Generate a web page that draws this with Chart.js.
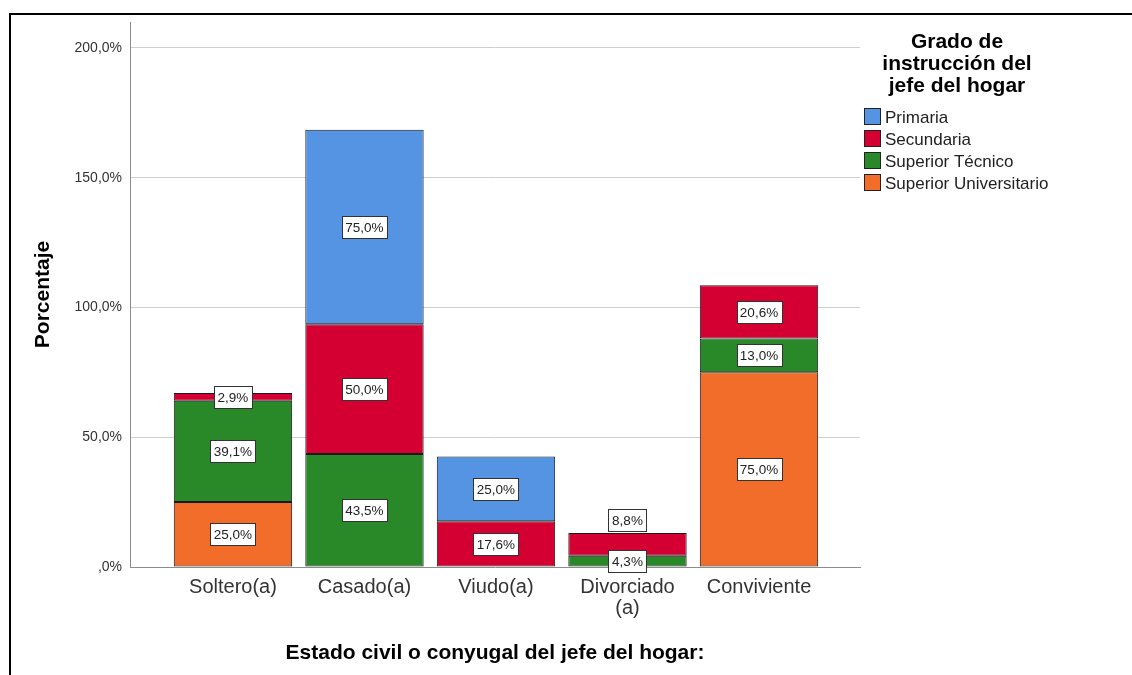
<!DOCTYPE html>
<html>
<head>
<meta charset="utf-8">
<script src="https://cdn.jsdelivr.net/npm/chart.js@4"></script>
<style>
    body { margin: 0; background: #fff; }
    #wrap { position: relative; width: 1132px; height: 675px; }
    #frame { position: absolute; left: 9px; top: 13px; right: 0; bottom: 0;
             border-top: 2px solid #000; border-left: 2px solid #000; pointer-events: none; }
</style>
</head>
<body>
<div id="wrap">
    <canvas id="chart" width="1132" height="675"></canvas>
    <div id="frame"></div>
</div>
<script>
// categories on the x axis
const categories = ['Soltero(a)', 'Casado(a)', 'Viudo(a)', ['Divorciado', '(a)'], 'Conviviente'];

// series, bottom of the stack first (null = no segment)
const universitario = [25.0, null, null, null, 75.0];
const tecnico = [39.1, 43.5, null, 4.3, 13.0];
const secundaria = [2.9, 50.0, 17.6, 8.8, 20.6];
const primaria = [null, 75.0, 25.0, null, null];

const yTicks = [0, 50, 100, 150, 200];

const series = [
    { label: 'Superior Universitario', values: universitario, color: '#f26c2a' },
    { label: 'Superior Técnico', values: tecnico, color: '#298929' },
    { label: 'Secundaria', values: secundaria, color: '#d50032' },
    { label: 'Primaria', values: primaria, color: '#5494e2' }
];

const fmt = v => v.toFixed(1).replace('.', ',') + '%';

// white boxed value labels, pushed up over the bar when they would collide
const valueLabels = {
    id: 'valueLabels',
    afterDatasetsDraw(chart) {
        const ctx = chart.ctx;
        const lastTop = {};
        ctx.save();
        ctx.font = '13.5px "Liberation Sans", Arial, sans-serif';
        ctx.textAlign = 'center';
        ctx.textBaseline = 'middle';
        chart.data.datasets.forEach((ds, di) => {
            const meta = chart.getDatasetMeta(di);
            meta.data.forEach((el, i) => {
                const v = ds.data[i].y;
                if (v === null || v === undefined) return;
                const text = fmt(v);
                const w = Math.round(ctx.measureText(text).width + 7);
                const h = 22;
                let cy = (el.y + el.base) / 2;
                if (lastTop[i] !== undefined && cy + h / 2 > lastTop[i]) {
                    cy = el.y - 2 - h / 2;
                }
                lastTop[i] = cy - h / 2;
                const bx = Math.round(el.x - w / 2) + 0.5;
                const by = Math.round(cy - h / 2) + 0.5;
                ctx.fillStyle = '#fff';
                ctx.fillRect(bx, by, w, h);
                ctx.strokeStyle = '#333';
                ctx.lineWidth = 1;
                ctx.strokeRect(bx, by, w, h);
                ctx.fillStyle = '#222';
                ctx.fillText(text, el.x, cy + 1);
            });
        });
        ctx.restore();
    }
};

// legend on the right with a three line title
const sideLegend = {
    id: 'sideLegend',
    afterDraw(chart) {
        const ctx = chart.ctx;
        ctx.save();
        ctx.fillStyle = '#000';
        ctx.textAlign = 'center';
        ctx.textBaseline = 'middle';
        ctx.font = 'bold 21px "Liberation Sans", Arial, sans-serif';
        ['Grado de', 'instrucción del', 'jefe del hogar'].forEach((t, k) => {
            ctx.fillText(t, 957, 42 + k * 22);
        });
        ctx.font = '17px "Liberation Sans", Arial, sans-serif';
        ctx.textAlign = 'left';
        const items = chart.data.datasets.slice().reverse();
        items.forEach((ds, k) => {
            const cy = 117 + k * 22;
            ctx.fillStyle = ds.backgroundColor;
            ctx.fillRect(864.5, cy - 8.5, 16, 16);
            ctx.strokeStyle = '#222';
            ctx.lineWidth = 1;
            ctx.strokeRect(864.5, cy - 8.5, 16, 16);
            ctx.fillStyle = '#222';
            ctx.fillText(ds.label, 885, cy + 1);
        });
        ctx.restore();
    }
};

new Chart(document.getElementById('chart'), {
    type: 'bar',
    data: {
        datasets: series.map(s => ({
            label: s.label,
            data: s.values.map((v, i) => ({ x: i, y: v })),
            backgroundColor: s.color,
            borderColor: '#1a1a1a',
            borderWidth: 1,
            borderSkipped: false,
            categoryPercentage: 1,
            barPercentage: 0.9
        }))
    },
    options: {
        responsive: false,
        animation: false,
        devicePixelRatio: 1,
        layout: { padding: { left: 0, right: 272, top: 22, bottom: 0 } },
        plugins: {
            legend: { display: false },
            tooltip: { enabled: false }
        },
        scales: {
            x: {
                type: 'linear',
                stacked: true,
                offset: false,
                min: -0.783,
                max: 4.768,
                afterBuildTicks: scale => { scale.ticks = categories.map((c, i) => ({ value: i })); },
                afterFit: scale => { scale.height = 108; },
                grid: { display: false, drawTicks: false },
                border: { display: true, color: '#8c8c8c' },
                ticks: {
                    autoSkip: false,
                    maxRotation: 0,
                    padding: 10,
                    color: '#333',
                    font: { family: '"Liberation Sans", Arial, sans-serif', size: 20, lineHeight: 1.05 },
                    callback: v => categories[v]
                },
                title: {
                    display: true,
                    text: 'Estado civil o conyugal del jefe del hogar:',
                    color: '#000',
                    padding: { top: 0, bottom: 9 },
                    font: { family: '"Liberation Sans", Arial, sans-serif', size: 21, weight: 'bold' }
                }
            },
            y: {
                stacked: true,
                min: 0,
                max: 210,
                afterBuildTicks: scale => { scale.ticks = yTicks.map(v => ({ value: v })); },
                afterFit: scale => { scale.width = 130; },
                grid: {
                    drawTicks: false,
                    color: ctx => ctx.tick && ctx.tick.value === 0 ? 'rgba(0,0,0,0)' : '#cfcfcf'
                },
                border: { display: true, color: '#8c8c8c' },
                ticks: {
                    padding: 8,
                    color: '#333',
                    font: { family: '"Liberation Sans", Arial, sans-serif', size: 14 },
                    callback: v => v === 0 ? ',0%' : fmt(v)
                },
                title: {
                    display: true,
                    text: 'Porcentaje',
                    color: '#000',
                    padding: { top: 31, bottom: 0 },
                    font: { family: '"Liberation Sans", Arial, sans-serif', size: 21, weight: 'bold' }
                }
            }
        }
    },
    plugins: [valueLabels, sideLegend]
});
</script>
</body>
</html>
